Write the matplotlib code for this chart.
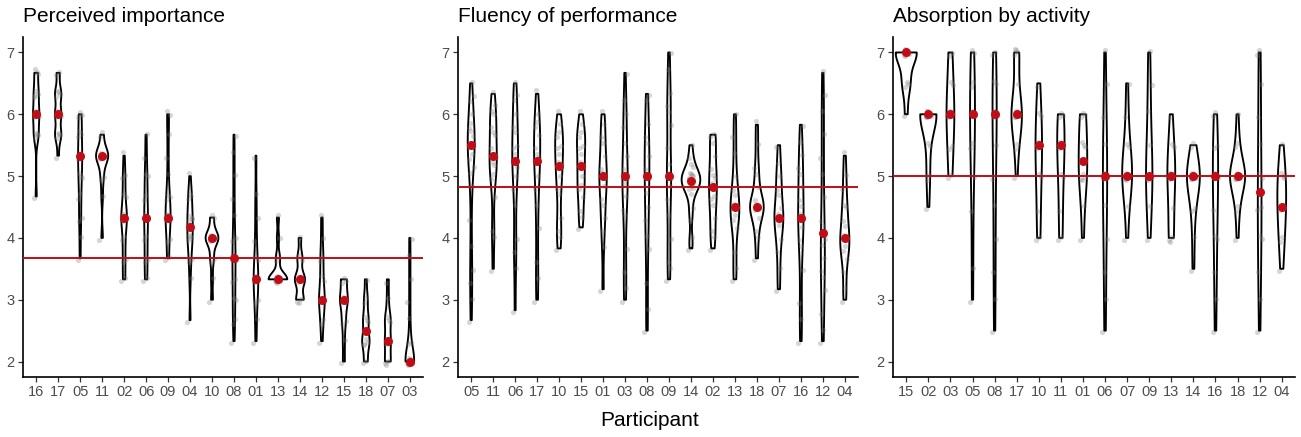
import matplotlib
matplotlib.use("Agg")
import matplotlib.pyplot as plt
import numpy as np
import pandas as pd
import seaborn as sns

plt.rcParams["font.family"] = ["Liberation Sans", "DejaVu Sans"]

RED = "#C00D16"
OUT = "out.png"

# ---- Perceived importance ----
importance_order = ["16", "17", "05", "11", "02", "06", "09", "04", "10",
                    "08", "01", "13", "14", "12", "15", "18", "07", "03"]
importance_medians = [6.0, 6.0, 5.33, 5.33, 4.33, 4.33, 4.33, 4.17, 4.0,
                      3.67, 3.33, 3.33, 3.33, 3.0, 3.0, 2.5, 2.33, 2.0]
importance_overall = 3.67
importance_values = {
    "16": [4.67, 5.67, 5.67, 5.67, 5.67, 6.0, 6.0, 6.0, 6.0, 6.0, 6.33, 6.33, 6.33, 6.33, 6.67, 6.67, 6.67],
    "17": [5.33, 5.67, 5.67, 5.67, 5.67, 6.0, 6.0, 6.0, 6.0, 6.33, 6.33, 6.33, 6.33, 6.67, 6.67],
    "05": [3.67, 4.0, 4.33, 4.33, 4.67, 4.67, 5.0, 5.0, 5.0, 5.33, 5.33, 5.33, 5.33, 5.67, 5.67, 5.67, 6.0, 6.0, 6.0],
    "11": [4.0, 4.67, 5.0, 5.0, 5.33, 5.33, 5.33, 5.33, 5.33, 5.33, 5.33, 5.33, 5.67, 5.67],
    "02": [3.33, 3.33, 3.67, 3.67, 4.0, 4.0, 4.33, 4.33, 4.33, 4.33, 4.33, 4.67, 4.67, 5.0, 5.0, 5.33],
    "06": [3.33, 3.33, 3.67, 3.67, 4.0, 4.0, 4.33, 4.33, 4.33, 4.67, 4.67, 5.0, 5.0, 5.33, 5.67],
    "09": [3.67, 3.67, 4.0, 4.0, 4.33, 4.33, 4.33, 4.33, 4.33, 4.67, 4.67, 4.67, 5.0, 5.33, 5.67, 6.0, 6.0],
    "04": [2.67, 3.33, 3.67, 3.67, 4.0, 4.0, 4.0, 4.0, 4.33, 4.33, 4.33, 4.33, 4.67, 4.67, 4.67, 5.0],
    "10": [3.0, 3.33, 3.67, 3.67, 4.0, 4.0, 4.0, 4.0, 4.0, 4.0, 4.0, 4.33, 4.33],
    "08": [2.33, 2.67, 2.67, 3.0, 3.0, 3.33, 3.33, 3.67, 3.67, 3.67, 4.0, 4.0, 4.33, 4.67, 5.0, 5.33, 5.67],
    "01": [2.33, 2.67, 3.0, 3.0, 3.33, 3.33, 3.33, 3.33, 3.67, 3.67, 4.0, 4.33, 4.67, 5.33],
    "13": [3.33, 3.33, 3.33, 3.33, 3.33, 3.33, 3.33, 3.33, 3.33, 3.67, 3.67, 4.0, 4.33],
    "14": [3.0, 3.0, 3.0, 3.33, 3.33, 3.33, 3.33, 3.67, 3.67, 4.0],
    "12": [2.33, 2.67, 2.67, 3.0, 3.0, 3.0, 3.0, 3.33, 3.33, 3.67, 3.67, 4.0, 4.33],
    "15": [2.0, 2.33, 2.67, 2.67, 3.0, 3.0, 3.0, 3.0, 3.33, 3.33, 3.33],
    "18": [2.0, 2.0, 2.33, 2.33, 2.33, 2.33, 2.67, 2.67, 2.67, 3.0, 3.0, 3.33],
    "07": [2.0, 2.0, 2.0, 2.33, 2.33, 2.33, 2.67, 2.67, 2.67, 3.0, 3.33],
    "03": [2.0, 2.0, 2.0, 2.0, 2.0, 2.0, 2.0, 2.0, 2.0, 2.0, 2.33, 2.33, 2.67, 3.0, 3.33, 3.67, 4.0],
}

# ---- Fluency of performance ----
fluency_order = ["05", "11", "06", "17", "10", "15", "01", "03", "08",
                 "09", "14", "02", "13", "18", "07", "16", "12", "04"]
fluency_medians = [5.5, 5.33, 5.25, 5.25, 5.17, 5.17, 5.0, 5.0, 5.0,
                   5.0, 4.92, 4.83, 4.5, 4.5, 4.33, 4.33, 4.08, 4.0]
fluency_overall = 4.83
fluency_values = {
    "05": [2.67, 3.0, 3.33, 3.5, 3.83, 4.33, 4.83, 5.0, 5.17, 5.33, 5.33, 5.5, 5.5, 5.5, 5.5, 5.67, 5.67, 5.83, 5.83, 6.0, 6.17, 6.33, 6.5],
    "11": [3.5, 4.0, 4.17, 4.67, 5.0, 5.0, 5.17, 5.17, 5.33, 5.33, 5.5, 5.67, 5.67, 5.83, 6.0, 6.0, 6.17, 6.33],
    "06": [2.83, 3.5, 3.83, 4.0, 4.5, 4.83, 5.0, 5.17, 5.17, 5.33, 5.5, 5.5, 5.67, 5.83, 6.0, 6.17, 6.33, 6.5],
    "17": [3.0, 3.33, 3.67, 4.17, 4.5, 4.83, 5.0, 5.17, 5.33, 5.33, 5.5, 5.67, 5.83, 5.83, 6.0, 6.33],
    "10": [3.83, 4.0, 4.17, 4.33, 4.67, 4.83, 5.0, 5.17, 5.17, 5.33, 5.5, 5.5, 5.67, 5.67, 5.83, 6.0],
    "15": [4.17, 4.33, 4.5, 4.67, 4.83, 4.83, 5.0, 5.17, 5.17, 5.33, 5.5, 5.5, 5.67, 5.67, 5.83, 6.0],
    "01": [3.17, 3.83, 4.17, 4.33, 4.5, 4.67, 4.83, 5.0, 5.0, 5.0, 5.17, 5.33, 5.5, 5.67, 5.83, 6.0],
    "03": [3.0, 3.17, 3.5, 3.83, 4.33, 4.5, 4.67, 4.83, 5.0, 5.0, 5.17, 5.33, 5.5, 5.83, 6.0, 6.17, 6.67],
    "08": [2.5, 2.83, 3.33, 3.83, 4.0, 4.33, 4.5, 4.67, 5.0, 5.0, 5.17, 5.33, 5.5, 5.67, 5.83, 6.17, 6.33],
    "09": [3.33, 3.5, 3.67, 4.0, 4.33, 4.67, 4.83, 5.0, 5.0, 5.17, 5.5, 5.83, 6.0, 6.17, 6.33, 6.67, 7.0],
    "14": [3.83, 4.0, 4.33, 4.5, 4.67, 4.83, 4.83, 4.83, 4.83, 4.83, 5.0, 5.0, 5.0, 5.0, 5.0, 5.0, 5.17, 5.17, 5.33, 5.5],
    "02": [3.83, 4.0, 4.17, 4.33, 4.5, 4.67, 4.67, 4.83, 5.0, 5.0, 5.17, 5.33, 5.5, 5.67, 5.67],
    "13": [3.33, 3.5, 3.83, 4.17, 4.33, 4.33, 4.5, 4.5, 4.5, 4.67, 4.83, 5.0, 5.33, 5.67, 6.0],
    "18": [3.67, 4.0, 4.17, 4.33, 4.5, 4.5, 4.5, 4.5, 4.5, 4.5, 4.67, 4.83, 5.0, 5.17, 5.5, 5.83],
    "07": [3.17, 3.5, 3.83, 4.0, 4.17, 4.33, 4.33, 4.33, 4.5, 4.67, 4.83, 5.0, 5.17, 5.5],
    "16": [2.33, 2.67, 3.0, 3.5, 3.83, 4.0, 4.17, 4.33, 4.33, 4.5, 4.67, 4.83, 5.0, 5.17, 5.33, 5.5, 5.83],
    "12": [2.33, 2.5, 2.83, 3.17, 3.33, 3.5, 3.67, 3.83, 4.0, 4.17, 4.33, 4.67, 5.0, 5.33, 5.67, 6.0, 6.33, 6.67],
    "04": [3.0, 3.17, 3.5, 3.67, 3.83, 3.83, 4.0, 4.0, 4.0, 4.17, 4.33, 4.5, 4.5, 4.83, 5.0, 5.33],
}

# ---- Absorption by activity ----
absorption_order = ["15", "02", "03", "05", "08", "17", "10", "11", "01",
                    "06", "07", "09", "13", "14", "16", "18", "12", "04"]
absorption_medians = [7.0, 6.0, 6.0, 6.0, 6.0, 6.0, 5.5, 5.5, 5.25,
                      5.0, 5.0, 5.0, 5.0, 5.0, 5.0, 5.0, 4.75, 4.5]
absorption_overall = 5.0
absorption_values = {
    "15": [6.0, 6.5, 6.5, 6.5, 7.0, 7.0, 7.0, 7.0, 7.0, 7.0, 7.0, 7.0],
    "02": [4.5, 5.0, 5.0, 5.5, 5.5, 6.0, 6.0, 6.0, 6.0, 6.0, 6.0, 6.0, 6.0, 6.0, 6.0, 6.0],
    "03": [5.0, 5.0, 5.5, 5.5, 6.0, 6.0, 6.0, 6.0, 6.5, 6.5, 7.0, 7.0],
    "05": [3.0, 3.5, 4.5, 5.0, 5.5, 5.5, 6.0, 6.0, 6.0, 6.5, 6.5, 7.0, 7.0],
    "08": [2.5, 3.0, 3.5, 4.0, 4.5, 5.0, 5.5, 6.0, 6.0, 6.0, 6.0, 6.5, 6.5, 7.0, 7.0],
    "17": [5.0, 5.5, 5.5, 6.0, 6.0, 6.0, 6.0, 6.0, 6.0, 6.0, 6.0, 6.5, 7.0, 7.0, 7.0, 7.0],
    "10": [4.0, 4.0, 4.5, 5.0, 5.0, 5.5, 5.5, 5.5, 6.0, 6.0, 6.5],
    "11": [4.0, 4.0, 4.5, 5.0, 5.0, 5.5, 5.5, 5.5, 6.0, 6.0, 6.0],
    "01": [4.0, 4.5, 5.0, 5.0, 5.0, 5.0, 5.5, 5.5, 5.5, 6.0, 6.0, 6.0],
    "06": [2.5, 3.0, 3.5, 4.0, 4.5, 5.0, 5.0, 5.0, 5.0, 5.5, 6.0, 6.5, 7.0],
    "07": [4.0, 4.5, 5.0, 5.0, 5.0, 5.0, 5.0, 5.0, 5.5, 5.5, 6.0, 6.5],
    "09": [4.0, 4.5, 5.0, 5.0, 5.0, 5.0, 5.5, 6.0, 6.5, 7.0],
    "13": [4.0, 4.0, 4.0, 4.5, 5.0, 5.0, 5.0, 5.0, 5.5, 5.5, 6.0],
    "14": [3.5, 4.0, 4.5, 4.5, 5.0, 5.0, 5.0, 5.0, 5.0, 5.0, 5.0, 5.0, 5.5, 5.5],
    "16": [2.5, 3.0, 3.5, 4.0, 4.0, 4.5, 5.0, 5.0, 5.0, 5.0, 5.5, 5.5, 6.0, 6.0],
    "18": [4.0, 4.5, 4.5, 5.0, 5.0, 5.0, 5.0, 5.0, 5.0, 5.0, 5.0, 5.0, 5.5, 5.5, 6.0],
    "12": [2.5, 3.0, 3.5, 4.0, 4.0, 4.5, 4.5, 5.0, 5.0, 5.5, 6.0, 6.5, 7.0, 7.0],
    "04": [3.5, 4.0, 4.0, 4.5, 4.5, 4.5, 5.0, 5.0, 5.0, 5.5],
}

TITLES = ["Perceived importance", "Fluency of performance", "Absorption by activity"]


def drawPanel(ax, order, values, medians, overall, bw, width):
    df = pd.DataFrame([(p, v) for p in order for v in values[p]],
                      columns=["participant", "value"])
    sns.violinplot(data=df, x="participant", y="value", order=order, ax=ax,
                   density_norm="area", cut=0, inner=None, fill=False,
                   color="black", linewidth=1.35, width=width, bw_adjust=bw)
    # jittered raw points (deterministic spread, like geom_jitter)
    for i, p in enumerate(order):
        vals = np.array(values[p])
        idx = np.arange(len(vals))
        dx = ((idx * 0.618) % 1 - 0.5) * 0.24
        dy = ((idx * 0.382 + 0.25) % 1 - 0.5) * 0.12
        ax.scatter(i + dx, vals + dy, s=14, color="#7a7a7a", alpha=0.3, lw=0, zorder=1)
    ax.axhline(overall, color=RED, lw=1.4, zorder=3)
    ax.scatter(range(len(order)), medians, s=42, color=RED, lw=0, zorder=4)

    ax.set_xlim(-0.6, len(order) - 0.4)
    ax.set_ylim(1.75, 7.25)
    ax.set_yticks([2, 3, 4, 5, 6, 7])
    ax.set_xlabel("")
    ax.set_ylabel("")
    for s in ["top", "right"]:
        ax.spines[s].set_visible(False)
    for s in ["left", "bottom"]:
        ax.spines[s].set_linewidth(1.2)
        ax.spines[s].set_color("black")
    ax.tick_params(length=3.5, width=0.9, color="#333333", labelcolor="#4D4D4D",
                   labelsize=10.5, pad=2.5)


fig = plt.figure(figsize=(13.01, 4.37), dpi=100)
lefts = [23, 458, 893]
widths = [400, 400, 402]
panels = [
    (importance_order, importance_values, importance_medians, importance_overall, 0.55, 0.85),
    (fluency_order, fluency_values, fluency_medians, fluency_overall, 0.6, 0.85),
    (absorption_order, absorption_values, absorption_medians, absorption_overall, 1.0, 0.95),
]
for k, (order, values, medians, overall, bw, vw) in enumerate(panels):
    ax = fig.add_axes([lefts[k] / 1301, 60 / 437, widths[k] / 1301, 340 / 437])
    drawPanel(ax, order, values, medians, overall, bw, vw)
    fig.text(lefts[k] / 1301, 1 - 22 / 437, TITLES[k], fontsize=15,
             ha="left", va="baseline", color="black")

fig.text(650 / 1301, 1 - 421 / 437, "Participant", fontsize=15,
         ha="center", va="center")

fig.savefig(OUT, dpi=100)
